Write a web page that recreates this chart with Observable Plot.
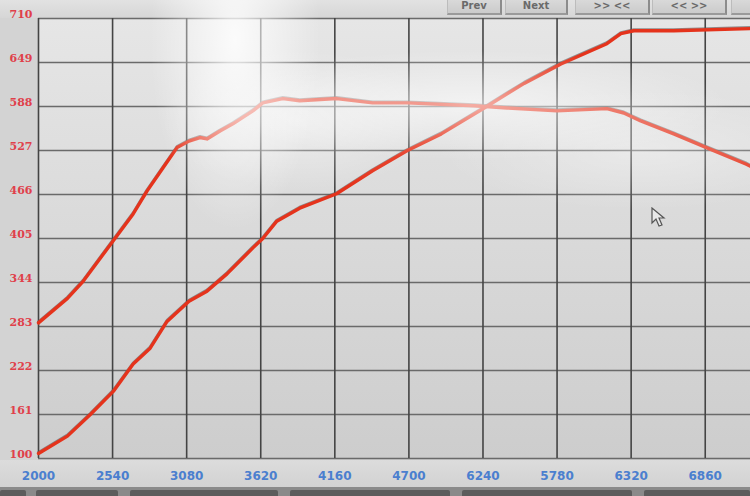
<!DOCTYPE html>
<html>
<head>
<meta charset="utf-8">
<script src="https://cdn.jsdelivr.net/npm/d3@7"></script>
<script src="https://cdn.jsdelivr.net/npm/@observablehq/plot@0.6"></script>
<style>
  html, body { margin: 0; padding: 0; background: #cfcfcf; }
  #wrap { position: relative; width: 750px; height: 496px; overflow: hidden; background: #d3d3d3; }
  #topbar { position: absolute; left: 0; top: 0; width: 750px; height: 18px; background: linear-gradient(#e2e2e2, #d6d6d6); }
  #plotbg { position: absolute; left: 38px; top: 18px; width: 712px; height: 440px;
            background: linear-gradient(#e6e6e6 0%, #dcdcdc 40%, #cdcdcd 100%); }
  #band { position: absolute; left: 0; top: 460px; width: 750px; height: 28px; background: linear-gradient(#dcdcdc, #d2d2d2); }
  #strip { position: absolute; left: 0; top: 487px; width: 750px; height: 9px; background: #8a8a8a; }
  .sb { position: absolute; top: 490px; height: 8px; background: #5c5c5c; border-radius: 2px; }
  #chart { position: absolute; left: 0; top: 0; }
  #glare { position: absolute; left: 0; top: 0; width: 750px; height: 496px; pointer-events: none;
    background:
      radial-gradient(ellipse 85px 190px at 235px 40px, rgba(255,255,255,0.85), rgba(255,255,255,0) 100%),
      radial-gradient(ellipse 260px 55px at 470px 105px, rgba(255,255,255,0.6), rgba(255,255,255,0) 100%),
      radial-gradient(ellipse 200px 60px at 640px 150px, rgba(255,255,255,0.35), rgba(255,255,255,0) 100%),
      radial-gradient(ellipse 140px 70px at 300px 120px, rgba(255,255,255,0.45), rgba(255,255,255,0) 100%);
  }
  .btn { position: absolute; top: -1px; height: 14px; background: linear-gradient(#dadada, #cbcbcb);
         border-right: 2px solid #8c8c8c; border-bottom: 2px solid #9a9a9a; border-left: 1px solid #bcbcbc;
         font: bold 10px "DejaVu Sans", sans-serif; color: #6a6a6a; text-align: center; line-height: 14px; }
  #cursor { position: absolute; left: 651px; top: 207px; }
</style>
</head>
<body>
<div id="wrap">
  <div id="topbar"></div>
  <div id="plotbg"></div>
  <div id="band"></div>
  <div id="strip"></div>
  <div class="sb" style="left:0;width:26px"></div>
  <div class="sb" style="left:36px;width:82px"></div>
  <div class="sb" style="left:130px;width:148px"></div>
  <div class="sb" style="left:290px;width:160px"></div>
  <div class="sb" style="left:462px;width:170px"></div>
  <div class="sb" style="left:644px;width:106px"></div>
  <div id="chart"></div>
  <div id="glare"></div>
  <div class="btn" style="left:447px;width:52px">Prev</div>
  <div class="btn" style="left:505px;width:60px">Next</div>
  <div class="btn" style="left:575px;width:72px">&gt;&gt; &lt;&lt;</div>
  <div class="btn" style="left:652px;width:72px">&lt;&lt; &gt;&gt;</div>
  <div class="btn" style="left:731px;width:30px"></div>
  <svg id="cursor" width="16" height="22" viewBox="0 0 16 22">
    <path d="M1 1 L1 16 L5 12 L8 19 L11 18 L8 11 L13 11 Z" fill="#e8e8e8" stroke="#555" stroke-width="1.2"/>
  </svg>
</div>
<script>
// X axis ticks (rpm) and Y axis ticks
const xTicks = [2000, 2540, 3080, 3620, 4160, 4700, 5240, 5780, 6320, 6860];
const xTickLabels = ["2000", "2540", "3080", "3620", "4160", "4700", "6240", "5780", "6320", "6860"];
const yTicks = [100, 161, 222, 283, 344, 405, 466, 527, 588, 649, 710];

// Curve A (starts high, plateaus, then falls)
const rpmA = [2000, 2211, 2327, 2545, 2690, 2792, 2908, 3010, 3097, 3177, 3228, 3323, 3417, 3563, 3635, 3781, 3904, 4173, 4435, 4689, 5176, 5416, 5779, 6143, 6266, 6390, 6630, 6869, 7160, 7190];
const valA = [288, 322, 346, 402, 439, 471, 503, 531, 540, 545, 543, 554, 564, 582, 593, 599, 596, 599, 593, 593, 589, 586, 582, 585, 579, 568, 550, 531, 508, 505];

// Curve B (starts low, rises, flat at top)
const rpmB = [2000, 2211, 2378, 2545, 2690, 2814, 2937, 3097, 3228, 3374, 3563, 3635, 3737, 3904, 4173, 4435, 4689, 4936, 5249, 5540, 5808, 6143, 6245, 6339, 6630, 7190];
const valB = [107, 131, 161, 193, 231, 253, 290, 318, 332, 356, 392, 405, 429, 447, 467, 499, 527, 550, 586, 620, 647, 675, 689, 693, 693, 696];

const dataA = rpmA.map((r, i) => ({rpm: r, v: valA[i]}));
const dataB = rpmB.map((r, i) => ({rpm: r, v: valB[i]}));

const red = "#e5331c";
const chart = Plot.plot({
  width: 750,
  height: 496,
  marginLeft: 38,
  marginRight: 0,
  marginTop: 18,
  marginBottom: 38,
  style: {background: "transparent", overflow: "visible"},
  x: {domain: [2000, 7190], label: null},
  y: {domain: [100, 710], label: null},
  marks: [
    Plot.gridY(yTicks, {stroke: "#6a6a6a", strokeOpacity: 1, strokeWidth: 1.3}),
    Plot.gridX(xTicks, {stroke: "#444", strokeOpacity: 1, strokeWidth: 1.6}),
    Plot.line(dataA, {x: "rpm", y: "v", stroke: "#555", strokeWidth: 3, strokeOpacity: 0.6, dy: -1}),
    Plot.line(dataB, {x: "rpm", y: "v", stroke: "#555", strokeWidth: 3, strokeOpacity: 0.6, dy: -1}),
    Plot.line(dataA, {x: "rpm", y: "v", stroke: red, strokeWidth: 3.4}),
    Plot.line(dataB, {x: "rpm", y: "v", stroke: red, strokeWidth: 3.4}),
    Plot.axisY(yTicks, {label: null, tickSize: 0, tickPadding: 6, dy: -4, fill: "#e0404a", fontSize: 11, fontWeight: "bold", fontFamily: "DejaVu Serif", tickFormat: d => String(d)}),
    Plot.axisX(xTicks, {label: null, tickSize: 0, tickPadding: 13, fill: "#4b7fcf", fontSize: 12, fontWeight: "bold", fontFamily: "DejaVu Sans", tickFormat: (d, i) => xTickLabels[i]})
  ]
});
document.getElementById("chart").appendChild(chart);
</script>
</body>
</html>
